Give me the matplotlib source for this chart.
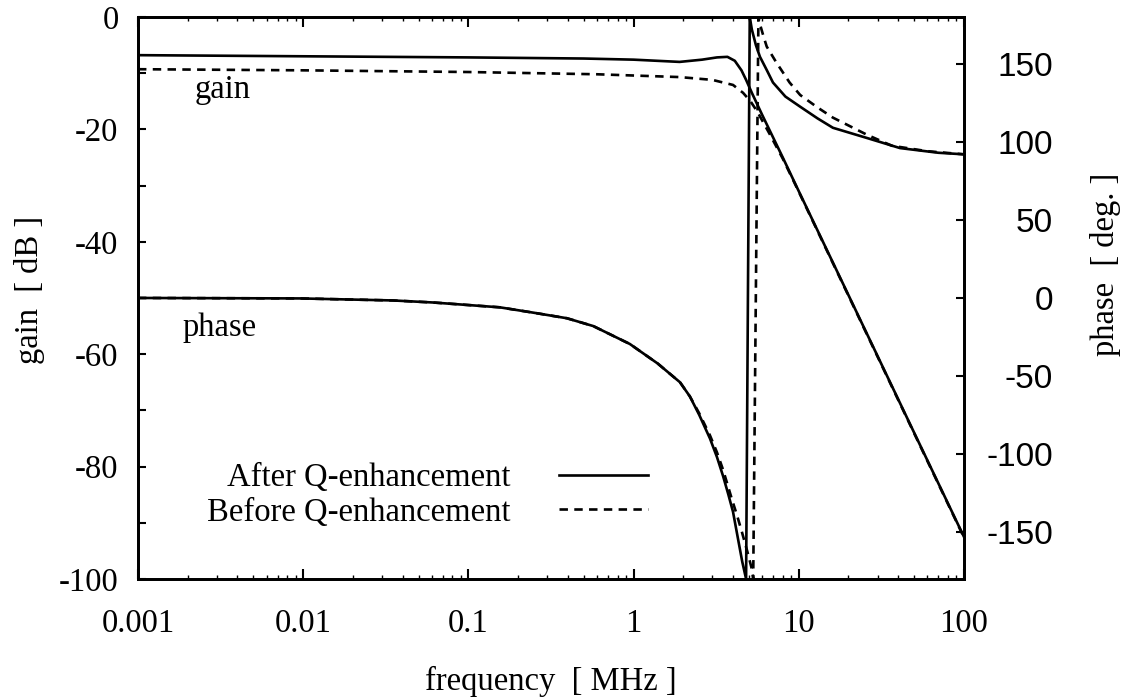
import matplotlib
matplotlib.use("Agg")
import matplotlib.pyplot as plt
from matplotlib.ticker import FixedLocator, LogLocator, NullFormatter, MultipleLocator

plt.rcParams["font.family"] = ["Liberation Serif", "DejaVu Serif"]
plt.rcParams["font.size"] = 23.5
plt.rcParams["axes.unicode_minus"] = False

# gain [dB] vs frequency [MHz]
f_gain_after = [0.001, 0.01, 0.1, 0.5, 1.0, 1.9, 2.6, 3.2, 3.7, 4.1, 4.5, 4.8,
                5.2, 6.0, 8.0, 10, 20, 50, 100]
gain_after = [-6.8, -7.0, -7.2, -7.4, -7.6, -8.0, -7.6, -7.2, -7.1, -7.8, -9.5,
              -11.2, -13.5, -17.4, -25.0, -31.0, -49.5, -74.0, -92.5]

f_gain_before = [0.001, 0.01, 0.1, 0.6, 1.9, 3.0, 4.0, 4.6, 5.1, 5.6, 6.6, 8.0,
                 10, 20, 50, 100]
gain_before = [-9.3, -9.5, -9.8, -10.2, -10.7, -11.2, -12.1, -13.5, -15.0,
               -16.8, -20.6, -25.2, -31.1, -49.6, -74.1, -92.6]

# phase [deg] vs frequency [MHz], wrapped at -180/+180
f_phase_after = [0.001, 0.0096, 0.035, 0.061, 0.155, 0.25, 0.395, 0.57, 0.95,
                 1.4, 1.91, 2.19, 2.5, 2.9, 3.2, 3.48, 3.75, 4.0, 4.3, 4.55,
                 4.8, 5.05, 5.2, 5.5, 5.82, 6.4, 6.98, 8.3, 10.2, 13, 16.1,
                 25.8, 41, 70, 100]
phase_after = [0, -0.3, -1.6, -2.9, -6.0, -9.5, -13, -18, -29.5,
               -42, -54, -63, -75, -90, -102, -114, -126, -137, -155, -169,
               -180, 180, 172, 162, 154.5, 146, 138, 129, 122.5, 115, 109,
               102.5, 96, 93, 92]

f_phase_before = [0.001, 0.0096, 0.035, 0.061, 0.155, 0.25, 0.395, 0.57, 0.95,
                  1.4, 1.91, 2.19, 2.5, 2.9, 3.2, 3.48, 3.94, 4.25, 4.53,
                  4.9, 5.21, 5.3, 5.7, 5.8, 6.1, 6.4, 7.3, 8.8, 10.2, 13,
                  16.1, 25.8, 36.6, 60, 100]
phase_before = [0, -0.3, -1.6, -2.9, -6.0, -9.5, -13, -18, -29.5,
                -42, -54, -63, -74, -88, -99, -110, -129, -140, -150,
                -163, -174, -180, 180, 176, 168, 161, 151, 138, 130, 122,
                115.5, 104.6, 97.5, 94, 92]

freq_ticks = [0.001, 0.01, 0.1, 1, 10, 100]
freq_labels = ["0.001", "0.01", "0.1", "1", "10", "100"]
gain_ticks = [0, -20, -40, -60, -80, -100]
phase_ticks = [-150, -100, -50, 0, 50, 100, 150]

lw = 1.9
dash = (0, (3.2, 2.4))

fig = plt.figure(figsize=(11.31, 7), dpi=100)
ax = fig.add_axes([0.1220, 0.1729, 0.7303, 0.8029])
ax2 = ax.twinx()

l_after, = ax.plot(f_gain_after, gain_after, color="black", lw=lw)
l_before, = ax.plot(f_gain_before, gain_before, color="black", lw=lw, linestyle=dash)
ax2.plot(f_phase_after, phase_after, color="black", lw=lw)
ax2.plot(f_phase_before, phase_before, color="black", lw=lw, linestyle=dash)

ax.set_xscale("log")
ax.set_xlim(0.001, 100)
ax.set_ylim(-100, 0)
ax2.set_ylim(-180, 180)

# frequency axis
ax.xaxis.set_major_locator(FixedLocator(freq_ticks))
ax.set_xticks(freq_ticks, freq_labels)
ax.xaxis.set_minor_locator(LogLocator(base=10, subs=range(2, 10)))
ax.xaxis.set_minor_formatter(NullFormatter())
ax.tick_params(axis="x", which="major", direction="in", top=True, length=7,
               width=1.5, pad=21)
ax.tick_params(axis="x", which="minor", direction="in", top=True, length=3,
               width=1.0)

# gain axis (left)
ax.set_yticks(gain_ticks)
ax.yaxis.set_minor_locator(MultipleLocator(10))
ax.tick_params(axis="y", which="both", direction="in", right=False, length=6,
               width=1.5, pad=14)

# phase axis (right), labels right-aligned
ax2.set_yticks(phase_ticks, [str(t) for t in phase_ticks], ha="right",
               family=["Liberation Sans", "DejaVu Sans"], fontsize=24)
ax2.tick_params(axis="y", direction="in", length=6, width=1.5, pad=64)

for a in (ax, ax2):
    for sp in a.spines.values():
        sp.set_linewidth(2.0)

ax.set_xlabel("frequency  [ MHz ]", labelpad=20)
ax.set_ylabel("gain  [ dB ]")
ax.yaxis.set_label_coords(-0.113, 0.514)
ax2.set_ylabel("phase  [ deg. ]")
ax2.yaxis.set_label_coords(1.1525, 0.56)

ax.text(0.00221, -14.4, "gain", va="baseline", ha="left")
ax.text(0.00187, -56.8, "phase", va="baseline", ha="left")

leg = ax2.legend([l_after, l_before],
                 ["After Q-enhancement", "Before Q-enhancement"],
                 loc="center right", bbox_to_anchor=(0.617, 0.149),
                 frameon=False, markerfirst=False, borderpad=0,
                 borderaxespad=0, handlelength=2.7, handletextpad=1.5,
                 labelspacing=0.12)
# right-align the legend entries so the line samples line up
for col in leg._legend_handle_box.get_children():
    col.align = "right"

fig.savefig("out.png", dpi=100)
